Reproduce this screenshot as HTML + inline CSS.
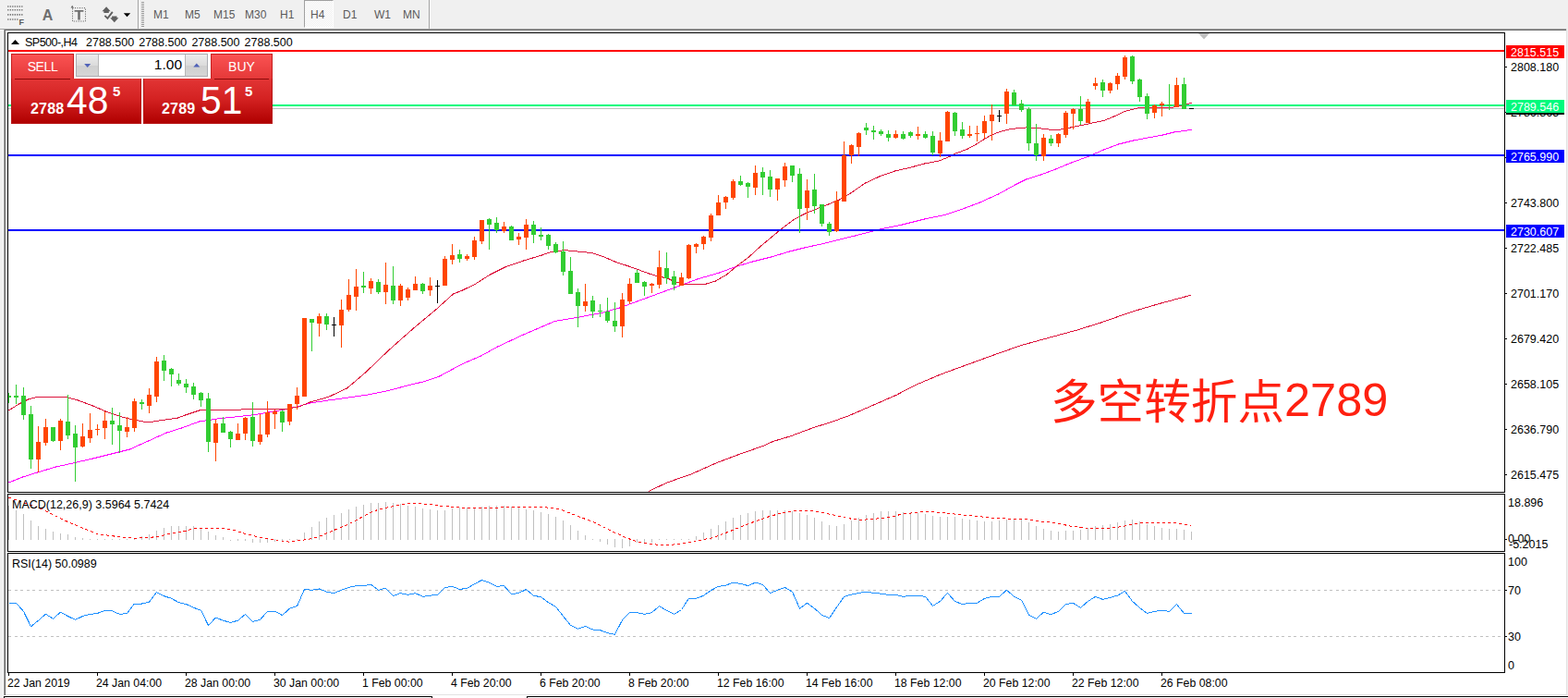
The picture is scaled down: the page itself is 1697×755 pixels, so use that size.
<!DOCTYPE html>
<html><head><meta charset="utf-8"><title>SP500-,H4</title>
<style>
html,body{margin:0;padding:0;}
body{width:1697px;height:755px;overflow:hidden;background:#f0f0f0;font-family:"Liberation Sans",sans-serif;position:relative;}
.abs{position:absolute;}
#win{left:4px;top:31px;width:1692px;height:721px;background:#fff;}
.tf{position:absolute;top:9px;font-size:12px;color:#5a5a5a;height:14px;line-height:14px;white-space:nowrap;}
.btn{position:absolute;background:linear-gradient(#f95151,#e03030);}
.pr{position:absolute;color:#fff;white-space:nowrap;}
</style></head><body>
<!-- chart window frame -->
<div class="abs" id="win"></div>
<div class="abs" style="left:0px;top:31px;width:1695px;height:1px;background:#a0a0a0"></div>
<div class="abs" style="left:0px;top:32px;width:4px;height:1px;background:#fff"></div>
<div class="abs" style="left:3px;top:33px;width:1px;height:719px;background:#f7f7f7"></div>
<div class="abs" style="left:5px;top:32px;width:1690px;height:1px;background:#696969"></div>
<div class="abs" style="left:4px;top:31px;width:1px;height:721px;background:#a0a0a0"></div>
<div class="abs" style="left:5px;top:32px;width:1px;height:720px;background:#696969"></div>
<div class="abs" style="left:1695px;top:31px;width:1px;height:721px;background:#e3e3e3"></div>
<div class="abs" style="left:6px;top:751px;width:1690px;height:1px;background:#e3e3e3"></div>
<!-- bottom tab strip -->
<div class="abs" style="left:4px;top:752px;width:1693px;height:3px;background:#fff"></div>
<div class="abs" style="left:4px;top:753px;width:464px;height:1px;background:#000"></div>
<div class="abs" style="left:4px;top:753px;width:1px;height:2px;background:#000"></div>
<div class="abs" style="left:467px;top:753px;width:1px;height:2px;background:#000"></div>
<div class="abs" style="left:570px;top:753px;width:1127px;height:1px;background:#000"></div>
<div class="abs" style="left:570px;top:753px;width:1px;height:2px;background:#000"></div>

<!-- toolbar -->
<div class="abs" id="toolbar" style="left:0;top:0;width:1697px;height:31px;background:#f0f0f0">
 <svg class="abs" style="left:0;top:0" width="170" height="31" viewBox="0 0 170 31">
  <g stroke="#6a6a6a" stroke-width="1.6" stroke-dasharray="1.2 1.3">
   <line x1="8.2" x2="25.5" y1="7" y2="7"/><line x1="8.2" x2="25.5" y1="10.8" y2="10.8"/><line x1="8.2" x2="25.5" y1="15.9" y2="15.9"/><line x1="8.2" x2="20.5" y1="21" y2="21"/>
  </g>
  <text x="20.6" y="26.6" font-size="9" font-weight="bold" fill="#5a5a5a" font-family="Liberation Sans, sans-serif">F</text>
   <text x="45.8" y="22" font-size="16" font-weight="bold" fill="#6e6e6e" font-family="Liberation Sans, sans-serif">A</text>
  <rect x="78.5" y="8.7" width="14" height="14.3" fill="none" stroke="#555" stroke-width="1" stroke-dasharray="1 1.5"/>
  <path d="M76.6 8.6 l1.6 -2.8 l1.6 2.8z" fill="#666"/>
  <path d="M80.6 11 h9.8 v1.8 h-3.6 v8.7 h-2.6 v-8.7 h-3.6z" fill="#707070"/>
  <path d="M115.1 7.2 l4.6 5 h-1.9 v1.7 h-5.4 v-1.7 h-1.9z" fill="#606060"/>
  <path d="M113.4 16.9 l3 3 l5.4 -7" fill="none" stroke="#606060" stroke-width="1.9"/>
  <path d="M123.8 24.2 l4.6 -5 h-1.9 v-1.7 h-5.4 v1.7 h-1.9z" fill="#606060"/>
  <path d="M133.8 14.2 h7.4 l-3.7 4z" fill="#000"/>
  <rect x="149" y="0" width="1" height="31" fill="#a0a0a0"/><rect x="150" y="0" width="1" height="31" fill="#fff"/>
  <g fill="#9a9a9a"><rect x="153" y="2" width="3" height="1"/><rect x="153" y="4" width="3" height="1"/><rect x="153" y="6" width="3" height="1"/><rect x="153" y="8" width="3" height="1"/><rect x="153" y="10" width="3" height="1"/><rect x="153" y="12" width="3" height="1"/><rect x="153" y="14" width="3" height="1"/><rect x="153" y="16" width="3" height="1"/><rect x="153" y="18" width="3" height="1"/><rect x="153" y="20" width="3" height="1"/><rect x="153" y="22" width="3" height="1"/><rect x="153" y="24" width="3" height="1"/><rect x="153" y="26" width="3" height="1"/><rect x="153" y="28" width="3" height="1"/></g>
 </svg>
 <div class="abs" style="left:329px;top:0;width:32px;height:30px;background-color:#f8f8f8;background-image:conic-gradient(#ffffff 25%,#f0f0f0 0 50%,#ffffff 0 75%,#f0f0f0 0);background-size:2px 2px;border-left:1px solid #a0a0a0;border-top:1px solid #a0a0a0;border-right:1px solid #fff;border-bottom:1px solid #fff;box-sizing:border-box"></div>
 <div class="tf" style="left:166px">M1</div><div class="tf" style="left:200px">M5</div><div class="tf" style="left:231px">M15</div><div class="tf" style="left:265px">M30</div><div class="tf" style="left:303px">H1</div><div class="tf" style="left:336px">H4</div><div class="tf" style="left:371px">D1</div><div class="tf" style="left:405px">W1</div><div class="tf" style="left:436px">MN</div>
 <div class="abs" style="left:464px;top:0;width:1px;height:31px;background:#a0a0a0"></div><div class="abs" style="left:465px;top:0;width:1px;height:31px;background:#fff"></div>
</div>

<svg width="1697" height="755" viewBox="0 0 1697 755" style="position:absolute;left:0;top:0"><rect x="8" y="35" width="1621" height="1" fill="#000"/>
<rect x="8" y="532" width="1621" height="1" fill="#000"/>
<rect x="8" y="35" width="1" height="498" fill="#000"/>
<rect x="1628" y="35" width="1" height="498" fill="#000"/>
<rect x="8" y="534" width="1621" height="1" fill="#000"/>
<rect x="8" y="596" width="1621" height="1" fill="#000"/>
<rect x="8" y="534" width="1" height="63" fill="#000"/>
<rect x="1628" y="534" width="1" height="63" fill="#000"/>
<rect x="8" y="598" width="1621" height="1" fill="#000"/>
<rect x="8" y="727" width="1621" height="1" fill="#000"/>
<rect x="8" y="598" width="1" height="130" fill="#000"/>
<rect x="1628" y="598" width="1" height="130" fill="#000"/>
<clipPath id="cm"><rect x="9" y="36" width="1619" height="496"/></clipPath>
<g clip-path="url(#cm)" shape-rendering="crispEdges">
<rect x="9" y="117" width="1619" height="1" fill="#c0c0c0"/>
<rect x="9" y="113" width="1619" height="2" fill="#00fa7d"/>
<polyline points="701.6,531.5 722.3,521.9 747.7,513.0 776.4,500.3 801.8,490.8 827.2,481.9 836.8,477.4 855.8,471.7 881.3,462.2 897.2,457.4 919.4,449.4 944.9,438.3 970.3,427.2 990.5,416.6 1017.9,405.0 1045.3,395.0 1072.7,385.0 1103.8,374.0 1136.6,364.9 1164.0,357.5 1191.5,349.0 1224.3,337.4 1255.4,328.3 1289.2,319.2" fill="none" stroke="#dc143c" stroke-width="1" />
<polyline points="9.5,522.0 24.5,516.0 40.5,511.0 60.5,505.0 80.5,500.6 100.5,496.0 120.5,491.0 140.5,486.0 160.5,477.0 180.5,468.0 196.5,463.0 215.5,456.0 235.5,453.0 275.5,448.6 307.5,443.0 323.5,439.4 335.5,436.0 355.5,433.0 395.5,427.4 416.3,423.4 444.5,416.2 459.7,412.5 474.8,407.4 500.5,393.6 520.5,385.0 538.5,375.0 566.5,362.0 600.5,347.4 624.5,343.4 650.5,338.6 670.5,333.0 700.5,322.0 730.5,311.0 754.5,302.0 778.5,295.0 796.5,288.4 814.5,283.0 834.5,278.0 854.5,272.0 870.5,268.0 890.5,263.6 925.5,255.0 952.5,248.0 976.5,243.0 1000.5,237.0 1024.5,232.0 1044.5,225.0 1060.5,219.0 1080.5,210.0 1098.5,200.0 1110.5,194.0 1126.5,189.0 1142.5,183.0 1158.5,176.4 1178.5,169.0 1194.5,162.0 1210.5,156.0 1226.5,152.0 1242.5,149.0 1258.5,146.0 1270.5,143.0 1280.5,141.6 1289.5,140.4" fill="none" stroke="#ff00ff" stroke-width="1" />
<polyline points="9.5,444.0 20.5,437.0 30.5,432.0 40.5,429.4 70.5,429.4 84.5,433.0 100.5,439.0 114.5,445.0 130.5,450.6 144.5,454.0 160.5,457.0 172.5,455.0 192.5,452.0 200.5,449.0 215.5,444.0 261.5,443.0 307.5,442.6 323.5,440.0 335.5,435.0 355.5,429.4 375.5,420.0 395.5,403.0 420.5,379.0 446.5,356.0 470.5,336.0 490.5,318.0 500.5,314.0 514.5,307.2 530.5,297.0 546.5,289.0 566.5,282.0 586.5,276.0 596.5,272.6 610.5,270.6 624.5,272.0 640.5,273.6 652.5,277.4 666.5,283.4 680.5,288.0 692.5,292.3 702.5,296.0 712.5,299.0 722.5,301.0 730.5,305.0 742.5,307.6 762.5,307.6 774.5,304.0 786.5,297.0 798.5,287.0 810.5,278.0 822.5,267.0 834.5,257.0 846.5,247.0 858.5,238.0 870.5,231.4 882.5,226.5 896.5,221.0 908.5,216.0 920.5,209.0 936.5,198.0 952.5,190.6 968.5,185.0 984.5,181.4 1000.5,177.0 1016.5,174.0 1028.1,169.3 1032.9,166.5 1047.0,161.3 1056.5,156.1 1065.5,150.3 1072.5,146.3 1082.5,142.4 1094.5,139.4 1110.5,138.0 1122.5,138.4 1134.5,140.0 1146.5,140.4 1158.5,138.0 1170.5,135.6 1182.5,132.9 1194.5,130.6 1206.5,125.6 1217.0,120.5 1225.5,118.4 1232.5,116.6 1242.5,116.5 1258.5,116.5 1268.5,116.4 1272.5,115.5 1278.5,114.5 1284.5,112.5 1289.5,111.3" fill="none" stroke="#dc143c" stroke-width="1" />
<rect x="9" y="54" width="1619" height="2" fill="#ff0000"/>
<rect x="9" y="167" width="1619" height="2" fill="#0000ff"/>
<rect x="9" y="248" width="1619" height="2" fill="#0000ff"/>
<rect x="9" y="425" width="1" height="11" fill="#32cd32"/>
<rect x="7" y="428" width="5" height="2" fill="#32cd32"/>
<rect x="17" y="416" width="1" height="21" fill="#32cd32"/>
<rect x="15" y="428" width="5" height="2" fill="#32cd32"/>
<rect x="25" y="419" width="1" height="35" fill="#32cd32"/>
<rect x="23" y="428" width="5" height="21" fill="#32cd32"/>
<rect x="33" y="439" width="1" height="68" fill="#32cd32"/>
<rect x="31" y="448" width="5" height="49" fill="#32cd32"/>
<rect x="41" y="461" width="1" height="50" fill="#ff4500"/>
<rect x="39" y="478" width="5" height="19" fill="#ff4500"/>
<rect x="49" y="453" width="1" height="29" fill="#ff4500"/>
<rect x="47" y="462" width="5" height="17" fill="#ff4500"/>
<rect x="57" y="462" width="1" height="16" fill="#32cd32"/>
<rect x="55" y="462" width="5" height="15" fill="#32cd32"/>
<rect x="65" y="453" width="1" height="34" fill="#ff4500"/>
<rect x="63" y="455" width="5" height="22" fill="#ff4500"/>
<rect x="73" y="427" width="1" height="48" fill="#32cd32"/>
<rect x="71" y="456" width="5" height="15" fill="#32cd32"/>
<rect x="81" y="460" width="1" height="61" fill="#32cd32"/>
<rect x="79" y="469" width="5" height="15" fill="#32cd32"/>
<rect x="89" y="458" width="1" height="26" fill="#ff4500"/>
<rect x="87" y="472" width="5" height="11" fill="#ff4500"/>
<rect x="97" y="447" width="1" height="32" fill="#ff4500"/>
<rect x="95" y="465" width="5" height="9" fill="#ff4500"/>
<rect x="105" y="459" width="1" height="12" fill="#ff4500"/>
<rect x="103" y="464" width="5" height="1" fill="#ff4500"/>
<rect x="113" y="445" width="1" height="30" fill="#ff4500"/>
<rect x="111" y="455" width="5" height="8" fill="#ff4500"/>
<rect x="121" y="441" width="1" height="40" fill="#32cd32"/>
<rect x="119" y="455" width="5" height="4" fill="#32cd32"/>
<rect x="129" y="446" width="1" height="44" fill="#32cd32"/>
<rect x="127" y="460" width="5" height="6" fill="#32cd32"/>
<rect x="137" y="451" width="1" height="22" fill="#ff4500"/>
<rect x="135" y="462" width="5" height="5" fill="#ff4500"/>
<rect x="145" y="431" width="1" height="36" fill="#ff4500"/>
<rect x="143" y="434" width="5" height="29" fill="#ff4500"/>
<rect x="153" y="432" width="1" height="11" fill="#32cd32"/>
<rect x="151" y="435" width="5" height="2" fill="#32cd32"/>
<rect x="161" y="420" width="1" height="27" fill="#ff4500"/>
<rect x="159" y="427" width="5" height="12" fill="#ff4500"/>
<rect x="169" y="386" width="1" height="49" fill="#ff4500"/>
<rect x="167" y="391" width="5" height="38" fill="#ff4500"/>
<rect x="177" y="384" width="1" height="28" fill="#32cd32"/>
<rect x="175" y="390" width="5" height="11" fill="#32cd32"/>
<rect x="185" y="398" width="1" height="20" fill="#32cd32"/>
<rect x="183" y="399" width="5" height="6" fill="#32cd32"/>
<rect x="193" y="404" width="1" height="13" fill="#32cd32"/>
<rect x="191" y="411" width="5" height="4" fill="#32cd32"/>
<rect x="201" y="410" width="1" height="15" fill="#32cd32"/>
<rect x="199" y="415" width="5" height="4" fill="#32cd32"/>
<rect x="209" y="414" width="1" height="18" fill="#32cd32"/>
<rect x="207" y="418" width="5" height="9" fill="#32cd32"/>
<rect x="217" y="424" width="1" height="16" fill="#32cd32"/>
<rect x="215" y="425" width="5" height="8" fill="#32cd32"/>
<rect x="225" y="425" width="1" height="64" fill="#32cd32"/>
<rect x="223" y="431" width="5" height="47" fill="#32cd32"/>
<rect x="233" y="454" width="1" height="45" fill="#ff4500"/>
<rect x="231" y="458" width="5" height="21" fill="#ff4500"/>
<rect x="241" y="451" width="1" height="17" fill="#32cd32"/>
<rect x="239" y="458" width="5" height="10" fill="#32cd32"/>
<rect x="249" y="466" width="1" height="18" fill="#32cd32"/>
<rect x="247" y="467" width="5" height="8" fill="#32cd32"/>
<rect x="257" y="458" width="1" height="18" fill="#ff4500"/>
<rect x="255" y="469" width="5" height="7" fill="#ff4500"/>
<rect x="265" y="451" width="1" height="25" fill="#ff4500"/>
<rect x="263" y="452" width="5" height="17" fill="#ff4500"/>
<rect x="273" y="435" width="1" height="48" fill="#32cd32"/>
<rect x="271" y="451" width="5" height="26" fill="#32cd32"/>
<rect x="281" y="448" width="1" height="33" fill="#ff4500"/>
<rect x="279" y="470" width="5" height="8" fill="#ff4500"/>
<rect x="289" y="434" width="1" height="39" fill="#ff4500"/>
<rect x="287" y="446" width="5" height="24" fill="#ff4500"/>
<rect x="297" y="443" width="1" height="21" fill="#ff4500"/>
<rect x="295" y="445" width="5" height="3" fill="#ff4500"/>
<rect x="305" y="443" width="1" height="24" fill="#32cd32"/>
<rect x="303" y="445" width="5" height="12" fill="#32cd32"/>
<rect x="313" y="437" width="1" height="23" fill="#ff4500"/>
<rect x="311" y="437" width="5" height="19" fill="#ff4500"/>
<rect x="321" y="419" width="1" height="24" fill="#ff4500"/>
<rect x="319" y="428" width="5" height="9" fill="#ff4500"/>
<rect x="329" y="344" width="1" height="85" fill="#ff4500"/>
<rect x="327" y="344" width="5" height="85" fill="#ff4500"/>
<rect x="337" y="345" width="1" height="35" fill="#32cd32"/>
<rect x="335" y="345" width="5" height="4" fill="#32cd32"/>
<rect x="345" y="339" width="1" height="25" fill="#ff4500"/>
<rect x="343" y="342" width="5" height="8" fill="#ff4500"/>
<rect x="353" y="339" width="1" height="18" fill="#32cd32"/>
<rect x="351" y="342" width="5" height="9" fill="#32cd32"/>
<rect x="361" y="343" width="1" height="21" fill="#000000"/>
<rect x="359" y="351" width="5" height="1" fill="#000000"/>
<rect x="369" y="324" width="1" height="52" fill="#ff4500"/>
<rect x="367" y="335" width="5" height="17" fill="#ff4500"/>
<rect x="377" y="302" width="1" height="35" fill="#ff4500"/>
<rect x="375" y="319" width="5" height="16" fill="#ff4500"/>
<rect x="385" y="291" width="1" height="45" fill="#ff4500"/>
<rect x="383" y="310" width="5" height="11" fill="#ff4500"/>
<rect x="393" y="294" width="1" height="23" fill="#32cd32"/>
<rect x="391" y="309" width="5" height="2" fill="#32cd32"/>
<rect x="401" y="301" width="1" height="17" fill="#ff4500"/>
<rect x="399" y="304" width="5" height="8" fill="#ff4500"/>
<rect x="409" y="302" width="1" height="16" fill="#32cd32"/>
<rect x="407" y="305" width="5" height="11" fill="#32cd32"/>
<rect x="417" y="284" width="1" height="45" fill="#ff4500"/>
<rect x="415" y="308" width="5" height="8" fill="#ff4500"/>
<rect x="425" y="288" width="1" height="41" fill="#32cd32"/>
<rect x="423" y="309" width="5" height="16" fill="#32cd32"/>
<rect x="433" y="307" width="1" height="24" fill="#ff4500"/>
<rect x="431" y="309" width="5" height="16" fill="#ff4500"/>
<rect x="441" y="311" width="1" height="14" fill="#ff4500"/>
<rect x="439" y="313" width="5" height="9" fill="#ff4500"/>
<rect x="449" y="299" width="1" height="15" fill="#ff4500"/>
<rect x="447" y="307" width="5" height="7" fill="#ff4500"/>
<rect x="457" y="306" width="1" height="12" fill="#32cd32"/>
<rect x="455" y="307" width="5" height="8" fill="#32cd32"/>
<rect x="465" y="300" width="1" height="20" fill="#ff4500"/>
<rect x="463" y="309" width="5" height="5" fill="#ff4500"/>
<rect x="473" y="303" width="1" height="25" fill="#000000"/>
<rect x="471" y="309" width="5" height="1" fill="#000000"/>
<rect x="481" y="277" width="1" height="32" fill="#ff4500"/>
<rect x="479" y="280" width="5" height="29" fill="#ff4500"/>
<rect x="489" y="264" width="1" height="22" fill="#ff4500"/>
<rect x="487" y="276" width="5" height="5" fill="#ff4500"/>
<rect x="497" y="270" width="1" height="14" fill="#32cd32"/>
<rect x="495" y="275" width="5" height="5" fill="#32cd32"/>
<rect x="505" y="275" width="1" height="7" fill="#ff4500"/>
<rect x="503" y="277" width="5" height="3" fill="#ff4500"/>
<rect x="513" y="256" width="1" height="25" fill="#ff4500"/>
<rect x="511" y="260" width="5" height="18" fill="#ff4500"/>
<rect x="521" y="238" width="1" height="26" fill="#ff4500"/>
<rect x="519" y="238" width="5" height="23" fill="#ff4500"/>
<rect x="529" y="236" width="1" height="34" fill="#32cd32"/>
<rect x="527" y="237" width="5" height="6" fill="#32cd32"/>
<rect x="537" y="235" width="1" height="17" fill="#32cd32"/>
<rect x="535" y="241" width="5" height="8" fill="#32cd32"/>
<rect x="545" y="240" width="1" height="12" fill="#ff4500"/>
<rect x="543" y="245" width="5" height="5" fill="#ff4500"/>
<rect x="553" y="244" width="1" height="16" fill="#32cd32"/>
<rect x="551" y="245" width="5" height="15" fill="#32cd32"/>
<rect x="561" y="252" width="1" height="13" fill="#ff4500"/>
<rect x="559" y="256" width="5" height="3" fill="#ff4500"/>
<rect x="569" y="237" width="1" height="33" fill="#ff4500"/>
<rect x="567" y="243" width="5" height="14" fill="#ff4500"/>
<rect x="577" y="239" width="1" height="24" fill="#32cd32"/>
<rect x="575" y="243" width="5" height="11" fill="#32cd32"/>
<rect x="585" y="246" width="1" height="14" fill="#32cd32"/>
<rect x="583" y="254" width="5" height="2" fill="#32cd32"/>
<rect x="593" y="253" width="1" height="17" fill="#32cd32"/>
<rect x="591" y="254" width="5" height="12" fill="#32cd32"/>
<rect x="601" y="262" width="1" height="12" fill="#32cd32"/>
<rect x="599" y="264" width="5" height="9" fill="#32cd32"/>
<rect x="609" y="261" width="1" height="37" fill="#32cd32"/>
<rect x="607" y="272" width="5" height="22" fill="#32cd32"/>
<rect x="617" y="278" width="1" height="40" fill="#32cd32"/>
<rect x="615" y="293" width="5" height="25" fill="#32cd32"/>
<rect x="625" y="312" width="1" height="42" fill="#32cd32"/>
<rect x="623" y="316" width="5" height="15" fill="#32cd32"/>
<rect x="633" y="307" width="1" height="30" fill="#ff4500"/>
<rect x="631" y="326" width="5" height="5" fill="#ff4500"/>
<rect x="641" y="320" width="1" height="24" fill="#32cd32"/>
<rect x="639" y="325" width="5" height="12" fill="#32cd32"/>
<rect x="649" y="329" width="1" height="14" fill="#32cd32"/>
<rect x="647" y="336" width="5" height="1" fill="#32cd32"/>
<rect x="657" y="322" width="1" height="27" fill="#32cd32"/>
<rect x="655" y="337" width="5" height="10" fill="#32cd32"/>
<rect x="665" y="327" width="1" height="32" fill="#32cd32"/>
<rect x="663" y="347" width="5" height="6" fill="#32cd32"/>
<rect x="673" y="317" width="1" height="48" fill="#ff4500"/>
<rect x="671" y="324" width="5" height="29" fill="#ff4500"/>
<rect x="681" y="301" width="1" height="28" fill="#ff4500"/>
<rect x="679" y="307" width="5" height="19" fill="#ff4500"/>
<rect x="689" y="292" width="1" height="14" fill="#32cd32"/>
<rect x="687" y="295" width="5" height="11" fill="#32cd32"/>
<rect x="697" y="304" width="1" height="16" fill="#32cd32"/>
<rect x="695" y="305" width="5" height="5" fill="#32cd32"/>
<rect x="705" y="306" width="1" height="11" fill="#ff4500"/>
<rect x="703" y="307" width="5" height="2" fill="#ff4500"/>
<rect x="713" y="271" width="1" height="41" fill="#ff4500"/>
<rect x="711" y="289" width="5" height="19" fill="#ff4500"/>
<rect x="721" y="273" width="1" height="34" fill="#32cd32"/>
<rect x="719" y="290" width="5" height="11" fill="#32cd32"/>
<rect x="729" y="293" width="1" height="21" fill="#32cd32"/>
<rect x="727" y="299" width="5" height="9" fill="#32cd32"/>
<rect x="737" y="295" width="1" height="14" fill="#ff4500"/>
<rect x="735" y="300" width="5" height="9" fill="#ff4500"/>
<rect x="745" y="264" width="1" height="38" fill="#ff4500"/>
<rect x="743" y="265" width="5" height="36" fill="#ff4500"/>
<rect x="753" y="263" width="1" height="11" fill="#ff4500"/>
<rect x="751" y="264" width="5" height="3" fill="#ff4500"/>
<rect x="761" y="255" width="1" height="15" fill="#ff4500"/>
<rect x="759" y="256" width="5" height="8" fill="#ff4500"/>
<rect x="769" y="231" width="1" height="30" fill="#ff4500"/>
<rect x="767" y="233" width="5" height="24" fill="#ff4500"/>
<rect x="777" y="211" width="1" height="22" fill="#ff4500"/>
<rect x="775" y="219" width="5" height="14" fill="#ff4500"/>
<rect x="785" y="212" width="1" height="14" fill="#ff4500"/>
<rect x="783" y="213" width="5" height="6" fill="#ff4500"/>
<rect x="793" y="194" width="1" height="22" fill="#ff4500"/>
<rect x="791" y="196" width="5" height="18" fill="#ff4500"/>
<rect x="801" y="190" width="1" height="11" fill="#32cd32"/>
<rect x="799" y="196" width="5" height="4" fill="#32cd32"/>
<rect x="809" y="197" width="1" height="17" fill="#32cd32"/>
<rect x="807" y="198" width="5" height="4" fill="#32cd32"/>
<rect x="817" y="179" width="1" height="32" fill="#ff4500"/>
<rect x="815" y="187" width="5" height="16" fill="#ff4500"/>
<rect x="825" y="181" width="1" height="30" fill="#32cd32"/>
<rect x="823" y="186" width="5" height="6" fill="#32cd32"/>
<rect x="833" y="184" width="1" height="29" fill="#32cd32"/>
<rect x="831" y="191" width="5" height="14" fill="#32cd32"/>
<rect x="841" y="193" width="1" height="24" fill="#ff4500"/>
<rect x="839" y="193" width="5" height="12" fill="#ff4500"/>
<rect x="849" y="176" width="1" height="26" fill="#ff4500"/>
<rect x="847" y="180" width="5" height="15" fill="#ff4500"/>
<rect x="857" y="179" width="1" height="18" fill="#32cd32"/>
<rect x="855" y="179" width="5" height="11" fill="#32cd32"/>
<rect x="865" y="182" width="1" height="70" fill="#32cd32"/>
<rect x="863" y="188" width="5" height="38" fill="#32cd32"/>
<rect x="873" y="194" width="1" height="44" fill="#ff4500"/>
<rect x="871" y="206" width="5" height="19" fill="#ff4500"/>
<rect x="881" y="188" width="1" height="43" fill="#32cd32"/>
<rect x="879" y="205" width="5" height="18" fill="#32cd32"/>
<rect x="889" y="221" width="1" height="24" fill="#32cd32"/>
<rect x="887" y="221" width="5" height="21" fill="#32cd32"/>
<rect x="897" y="240" width="1" height="15" fill="#32cd32"/>
<rect x="895" y="242" width="5" height="9" fill="#32cd32"/>
<rect x="905" y="207" width="1" height="44" fill="#ff4500"/>
<rect x="903" y="217" width="5" height="33" fill="#ff4500"/>
<rect x="913" y="153" width="1" height="65" fill="#ff4500"/>
<rect x="911" y="168" width="5" height="50" fill="#ff4500"/>
<rect x="921" y="156" width="1" height="21" fill="#ff4500"/>
<rect x="919" y="157" width="5" height="11" fill="#ff4500"/>
<rect x="929" y="143" width="1" height="26" fill="#ff4500"/>
<rect x="927" y="144" width="5" height="15" fill="#ff4500"/>
<rect x="937" y="133" width="1" height="13" fill="#32cd32"/>
<rect x="935" y="138" width="5" height="3" fill="#32cd32"/>
<rect x="945" y="136" width="1" height="15" fill="#32cd32"/>
<rect x="943" y="141" width="5" height="2" fill="#32cd32"/>
<rect x="953" y="140" width="1" height="7" fill="#32cd32"/>
<rect x="951" y="142" width="5" height="3" fill="#32cd32"/>
<rect x="961" y="141" width="1" height="12" fill="#32cd32"/>
<rect x="959" y="145" width="5" height="4" fill="#32cd32"/>
<rect x="969" y="141" width="1" height="9" fill="#ff4500"/>
<rect x="967" y="145" width="5" height="4" fill="#ff4500"/>
<rect x="977" y="142" width="1" height="9" fill="#32cd32"/>
<rect x="975" y="145" width="5" height="5" fill="#32cd32"/>
<rect x="985" y="142" width="1" height="7" fill="#32cd32"/>
<rect x="983" y="143" width="5" height="4" fill="#32cd32"/>
<rect x="993" y="137" width="1" height="14" fill="#ff4500"/>
<rect x="991" y="145" width="5" height="2" fill="#ff4500"/>
<rect x="1001" y="142" width="1" height="8" fill="#32cd32"/>
<rect x="999" y="145" width="5" height="4" fill="#32cd32"/>
<rect x="1009" y="142" width="1" height="26" fill="#32cd32"/>
<rect x="1007" y="147" width="5" height="18" fill="#32cd32"/>
<rect x="1017" y="143" width="1" height="27" fill="#ff4500"/>
<rect x="1015" y="152" width="5" height="14" fill="#ff4500"/>
<rect x="1025" y="120" width="1" height="33" fill="#ff4500"/>
<rect x="1023" y="121" width="5" height="32" fill="#ff4500"/>
<rect x="1033" y="121" width="1" height="26" fill="#32cd32"/>
<rect x="1031" y="122" width="5" height="20" fill="#32cd32"/>
<rect x="1041" y="132" width="1" height="18" fill="#32cd32"/>
<rect x="1039" y="140" width="5" height="7" fill="#32cd32"/>
<rect x="1049" y="136" width="1" height="13" fill="#ff4500"/>
<rect x="1047" y="145" width="5" height="2" fill="#ff4500"/>
<rect x="1057" y="136" width="1" height="17" fill="#ff4500"/>
<rect x="1055" y="144" width="5" height="1" fill="#ff4500"/>
<rect x="1065" y="125" width="1" height="25" fill="#ff4500"/>
<rect x="1063" y="131" width="5" height="13" fill="#ff4500"/>
<rect x="1073" y="113" width="1" height="39" fill="#ff4500"/>
<rect x="1071" y="124" width="5" height="7" fill="#ff4500"/>
<rect x="1081" y="119" width="1" height="13" fill="#000000"/>
<rect x="1079" y="125" width="5" height="1" fill="#000000"/>
<rect x="1089" y="96" width="1" height="38" fill="#ff4500"/>
<rect x="1087" y="99" width="5" height="24" fill="#ff4500"/>
<rect x="1097" y="97" width="1" height="17" fill="#32cd32"/>
<rect x="1095" y="100" width="5" height="14" fill="#32cd32"/>
<rect x="1105" y="108" width="1" height="13" fill="#32cd32"/>
<rect x="1103" y="112" width="5" height="7" fill="#32cd32"/>
<rect x="1113" y="116" width="1" height="47" fill="#32cd32"/>
<rect x="1111" y="118" width="5" height="37" fill="#32cd32"/>
<rect x="1121" y="134" width="1" height="40" fill="#32cd32"/>
<rect x="1119" y="155" width="5" height="13" fill="#32cd32"/>
<rect x="1129" y="145" width="1" height="29" fill="#ff4500"/>
<rect x="1127" y="149" width="5" height="20" fill="#ff4500"/>
<rect x="1137" y="146" width="1" height="12" fill="#32cd32"/>
<rect x="1135" y="150" width="5" height="5" fill="#32cd32"/>
<rect x="1145" y="144" width="1" height="15" fill="#ff4500"/>
<rect x="1143" y="145" width="5" height="10" fill="#ff4500"/>
<rect x="1153" y="120" width="1" height="29" fill="#ff4500"/>
<rect x="1151" y="122" width="5" height="24" fill="#ff4500"/>
<rect x="1161" y="117" width="1" height="23" fill="#ff4500"/>
<rect x="1159" y="118" width="5" height="5" fill="#ff4500"/>
<rect x="1169" y="104" width="1" height="31" fill="#32cd32"/>
<rect x="1167" y="118" width="5" height="13" fill="#32cd32"/>
<rect x="1177" y="107" width="1" height="26" fill="#ff4500"/>
<rect x="1175" y="110" width="5" height="23" fill="#ff4500"/>
<rect x="1185" y="84" width="1" height="13" fill="#ff4500"/>
<rect x="1183" y="90" width="5" height="3" fill="#ff4500"/>
<rect x="1193" y="86" width="1" height="19" fill="#32cd32"/>
<rect x="1191" y="89" width="5" height="9" fill="#32cd32"/>
<rect x="1201" y="89" width="1" height="12" fill="#ff4500"/>
<rect x="1199" y="90" width="5" height="8" fill="#ff4500"/>
<rect x="1209" y="79" width="1" height="18" fill="#ff4500"/>
<rect x="1207" y="82" width="5" height="9" fill="#ff4500"/>
<rect x="1217" y="60" width="1" height="26" fill="#ff4500"/>
<rect x="1215" y="62" width="5" height="21" fill="#ff4500"/>
<rect x="1225" y="60" width="1" height="31" fill="#32cd32"/>
<rect x="1223" y="61" width="5" height="27" fill="#32cd32"/>
<rect x="1233" y="85" width="1" height="25" fill="#32cd32"/>
<rect x="1231" y="86" width="5" height="19" fill="#32cd32"/>
<rect x="1241" y="101" width="1" height="28" fill="#32cd32"/>
<rect x="1239" y="104" width="5" height="19" fill="#32cd32"/>
<rect x="1249" y="113" width="1" height="15" fill="#ff4500"/>
<rect x="1247" y="114" width="5" height="8" fill="#ff4500"/>
<rect x="1257" y="110" width="1" height="16" fill="#ff4500"/>
<rect x="1255" y="112" width="5" height="2" fill="#ff4500"/>
<rect x="1265" y="91" width="1" height="28" fill="#32cd32"/>
<rect x="1263" y="113" width="5" height="1" fill="#32cd32"/>
<rect x="1273" y="84" width="1" height="32" fill="#ff4500"/>
<rect x="1271" y="92" width="5" height="24" fill="#ff4500"/>
<rect x="1281" y="84" width="1" height="34" fill="#32cd32"/>
<rect x="1279" y="91" width="5" height="27" fill="#32cd32"/>
<rect x="1287" y="117" width="5" height="1" fill="#000"/>
</g>
<polygon points="1297,36 1309,36 1303,42.5" fill="#c0c0c0"/>
<clipPath id="c2"><rect x="9" y="535" width="1619" height="61"/></clipPath>
<g clip-path="url(#c2)">
<g shape-rendering="crispEdges" fill="#c0c0c0">
<rect x="9" y="547" width="1" height="37"/>
<rect x="17" y="552" width="1" height="32"/>
<rect x="25" y="556" width="1" height="28"/>
<rect x="33" y="563" width="1" height="21"/>
<rect x="41" y="569" width="1" height="15"/>
<rect x="49" y="572" width="1" height="12"/>
<rect x="57" y="575" width="1" height="9"/>
<rect x="65" y="577" width="1" height="7"/>
<rect x="73" y="578" width="1" height="6"/>
<rect x="81" y="581" width="1" height="3"/>
<rect x="89" y="582" width="1" height="2"/>
<rect x="97" y="583" width="1" height="1"/>
<rect x="105" y="583" width="1" height="1"/>
<rect x="113" y="583" width="1" height="1"/>
<rect x="121" y="583" width="1" height="1"/>
<rect x="129" y="583" width="1" height="1"/>
<rect x="137" y="583" width="1" height="1"/>
<rect x="145" y="582" width="1" height="2"/>
<rect x="153" y="580" width="1" height="4"/>
<rect x="161" y="578" width="1" height="6"/>
<rect x="169" y="574" width="1" height="10"/>
<rect x="177" y="571" width="1" height="13"/>
<rect x="185" y="569" width="1" height="15"/>
<rect x="193" y="569" width="1" height="15"/>
<rect x="201" y="569" width="1" height="15"/>
<rect x="209" y="569" width="1" height="15"/>
<rect x="217" y="572" width="1" height="12"/>
<rect x="225" y="575" width="1" height="9"/>
<rect x="233" y="579" width="1" height="5"/>
<rect x="241" y="581" width="1" height="3"/>
<rect x="249" y="584" width="1" height="1"/>
<rect x="257" y="583" width="1" height="2"/>
<rect x="265" y="583" width="1" height="2"/>
<rect x="273" y="583" width="1" height="4"/>
<rect x="281" y="583" width="1" height="4"/>
<rect x="289" y="583" width="1" height="4"/>
<rect x="297" y="583" width="1" height="3"/>
<rect x="305" y="583" width="1" height="2"/>
<rect x="313" y="583" width="1" height="1"/>
<rect x="321" y="583" width="1" height="1"/>
<rect x="329" y="576" width="1" height="8"/>
<rect x="337" y="570" width="1" height="14"/>
<rect x="345" y="564" width="1" height="20"/>
<rect x="353" y="560" width="1" height="24"/>
<rect x="361" y="557" width="1" height="27"/>
<rect x="369" y="555" width="1" height="29"/>
<rect x="377" y="551" width="1" height="33"/>
<rect x="385" y="548" width="1" height="36"/>
<rect x="393" y="546" width="1" height="38"/>
<rect x="401" y="544" width="1" height="40"/>
<rect x="409" y="544" width="1" height="40"/>
<rect x="417" y="543" width="1" height="41"/>
<rect x="425" y="544" width="1" height="40"/>
<rect x="433" y="545" width="1" height="39"/>
<rect x="441" y="547" width="1" height="37"/>
<rect x="449" y="548" width="1" height="36"/>
<rect x="457" y="550" width="1" height="34"/>
<rect x="465" y="551" width="1" height="33"/>
<rect x="473" y="552" width="1" height="32"/>
<rect x="481" y="552" width="1" height="32"/>
<rect x="489" y="550" width="1" height="34"/>
<rect x="497" y="549" width="1" height="35"/>
<rect x="505" y="549" width="1" height="35"/>
<rect x="513" y="549" width="1" height="35"/>
<rect x="521" y="548" width="1" height="36"/>
<rect x="529" y="547" width="1" height="37"/>
<rect x="537" y="547" width="1" height="37"/>
<rect x="545" y="547" width="1" height="37"/>
<rect x="553" y="548" width="1" height="36"/>
<rect x="561" y="549" width="1" height="35"/>
<rect x="569" y="551" width="1" height="33"/>
<rect x="577" y="552" width="1" height="32"/>
<rect x="585" y="554" width="1" height="30"/>
<rect x="593" y="556" width="1" height="28"/>
<rect x="601" y="559" width="1" height="25"/>
<rect x="609" y="563" width="1" height="21"/>
<rect x="617" y="568" width="1" height="16"/>
<rect x="625" y="574" width="1" height="10"/>
<rect x="633" y="579" width="1" height="5"/>
<rect x="641" y="583" width="1" height="1"/>
<rect x="649" y="583" width="1" height="3"/>
<rect x="657" y="583" width="1" height="6"/>
<rect x="665" y="583" width="1" height="9"/>
<rect x="673" y="583" width="1" height="10"/>
<rect x="681" y="583" width="1" height="8"/>
<rect x="689" y="583" width="1" height="4"/>
<rect x="697" y="583" width="1" height="4"/>
<rect x="705" y="583" width="1" height="4"/>
<rect x="713" y="583" width="1" height="1"/>
<rect x="721" y="583" width="1" height="1"/>
<rect x="729" y="583" width="1" height="1"/>
<rect x="737" y="583" width="1" height="1"/>
<rect x="745" y="583" width="1" height="1"/>
<rect x="753" y="580" width="1" height="4"/>
<rect x="761" y="576" width="1" height="8"/>
<rect x="769" y="572" width="1" height="12"/>
<rect x="777" y="568" width="1" height="16"/>
<rect x="785" y="564" width="1" height="20"/>
<rect x="793" y="560" width="1" height="24"/>
<rect x="801" y="557" width="1" height="27"/>
<rect x="809" y="555" width="1" height="29"/>
<rect x="817" y="553" width="1" height="31"/>
<rect x="825" y="552" width="1" height="32"/>
<rect x="833" y="552" width="1" height="32"/>
<rect x="841" y="552" width="1" height="32"/>
<rect x="849" y="552" width="1" height="32"/>
<rect x="857" y="553" width="1" height="31"/>
<rect x="865" y="555" width="1" height="29"/>
<rect x="873" y="557" width="1" height="27"/>
<rect x="881" y="560" width="1" height="24"/>
<rect x="889" y="564" width="1" height="20"/>
<rect x="897" y="568" width="1" height="16"/>
<rect x="905" y="569" width="1" height="15"/>
<rect x="913" y="567" width="1" height="17"/>
<rect x="921" y="563" width="1" height="21"/>
<rect x="929" y="560" width="1" height="24"/>
<rect x="937" y="557" width="1" height="27"/>
<rect x="945" y="555" width="1" height="29"/>
<rect x="953" y="553" width="1" height="31"/>
<rect x="961" y="553" width="1" height="31"/>
<rect x="969" y="553" width="1" height="31"/>
<rect x="977" y="554" width="1" height="30"/>
<rect x="985" y="554" width="1" height="30"/>
<rect x="993" y="555" width="1" height="29"/>
<rect x="1001" y="556" width="1" height="28"/>
<rect x="1009" y="558" width="1" height="26"/>
<rect x="1017" y="559" width="1" height="25"/>
<rect x="1025" y="559" width="1" height="25"/>
<rect x="1033" y="559" width="1" height="25"/>
<rect x="1041" y="561" width="1" height="23"/>
<rect x="1049" y="562" width="1" height="22"/>
<rect x="1057" y="563" width="1" height="21"/>
<rect x="1065" y="564" width="1" height="20"/>
<rect x="1073" y="564" width="1" height="20"/>
<rect x="1081" y="563" width="1" height="21"/>
<rect x="1089" y="562" width="1" height="22"/>
<rect x="1097" y="562" width="1" height="22"/>
<rect x="1105" y="562" width="1" height="22"/>
<rect x="1113" y="565" width="1" height="19"/>
<rect x="1121" y="569" width="1" height="15"/>
<rect x="1129" y="572" width="1" height="12"/>
<rect x="1137" y="574" width="1" height="10"/>
<rect x="1145" y="575" width="1" height="9"/>
<rect x="1153" y="574" width="1" height="10"/>
<rect x="1161" y="574" width="1" height="10"/>
<rect x="1169" y="573" width="1" height="11"/>
<rect x="1177" y="571" width="1" height="13"/>
<rect x="1185" y="569" width="1" height="15"/>
<rect x="1193" y="568" width="1" height="16"/>
<rect x="1201" y="567" width="1" height="17"/>
<rect x="1209" y="565" width="1" height="19"/>
<rect x="1217" y="563" width="1" height="21"/>
<rect x="1225" y="562" width="1" height="22"/>
<rect x="1233" y="564" width="1" height="20"/>
<rect x="1241" y="567" width="1" height="17"/>
<rect x="1249" y="569" width="1" height="15"/>
<rect x="1257" y="571" width="1" height="13"/>
<rect x="1265" y="572" width="1" height="12"/>
<rect x="1273" y="572" width="1" height="12"/>
<rect x="1281" y="573" width="1" height="11"/>
<rect x="1289" y="575" width="1" height="9"/>
</g>
<polyline points="9.4,538.0 26.1,544.0 46.1,551.0 60.1,558.1 76.2,565.7 94.2,573.1 106.2,577.7 124.2,580.1 144.3,582.1 160.3,581.7 172.3,580.1 184.4,577.1 200.4,574.5 208.4,571.7 232.5,571.3 250.5,572.5 266.5,577.7 280.6,581.1 296.6,583.7 312.6,586.1 324.6,584.5 332.9,583.6 344.7,580.7 359.5,574.2 374.2,568.3 388.9,560.9 403.7,553.0 418.4,549.2 433.1,546.2 447.9,544.1 462.6,545.3 477.3,547.1 500.9,549.2 536.2,549.2 565.7,548.3 589.3,548.6 607.0,551.2 624.6,558.0 642.3,564.8 660.0,573.6 677.7,581.6 689.5,586.0 707.1,588.9 724.8,589.5 739.5,587.7 754.3,584.8 772.0,581.6 789.6,574.8 807.3,567.7 820.0,563.0 831.8,558.9 843.6,555.6 861.2,552.7 876.0,552.4 887.8,554.2 902.5,557.1 917.2,560.6 932.0,562.4 946.7,561.2 964.4,559.5 976.2,555.9 990.9,554.5 1002.7,553.3 1020.4,554.7 1038.0,556.5 1055.7,558.3 1073.4,560.1 1091.1,561.2 1108.7,561.5 1126.4,563.9 1144.1,565.9 1158.8,569.2 1176.5,571.2 1203.0,571.2 1217.8,568.9 1232.5,565.9 1250.2,565.4 1267.8,565.4 1279.6,566.8 1289.4,568.3" fill="none" stroke="#ff0000" stroke-width="1" stroke-dasharray="3 3" shape-rendering="crispEdges"/>
</g>
<g shape-rendering="crispEdges"><line x1="9" x2="1628" y1="638.5" y2="638.5" stroke="#c0c0c0" stroke-dasharray="3 3.5"/><line x1="9" x2="1628" y1="688.5" y2="688.5" stroke="#c0c0c0" stroke-dasharray="3 3.5"/></g>
<polyline points="9.5,652.3 17.5,652.3 25.5,661.3 33.5,677.7 41.5,671.2 49.5,664.2 57.5,669.4 65.5,662.1 73.5,666.5 81.5,670.4 89.5,666.5 97.5,664.4 105.5,663.4 113.5,660.3 121.5,660.8 129.5,664.4 137.5,663.4 145.5,653.0 153.5,653.0 161.5,651.2 169.5,640.6 177.5,644.7 185.5,647.3 193.5,651.7 201.5,653.6 209.5,657.2 217.5,660.3 225.5,676.4 233.5,668.1 241.5,671.2 249.5,673.3 257.5,671.2 265.5,664.4 273.5,672.5 281.5,670.4 289.5,661.3 297.5,661.3 305.5,665.5 313.5,658.2 321.5,655.6 329.5,637.5 337.5,638.3 345.5,637.0 353.5,640.1 361.5,641.6 369.5,638.3 377.5,635.4 385.5,633.6 393.5,633.6 401.5,632.3 409.5,638.3 417.5,636.2 425.5,644.5 433.5,641.6 441.5,643.4 449.5,641.6 457.5,645.3 465.5,644.2 473.5,643.4 481.5,635.4 489.5,634.4 497.5,637.5 505.5,636.2 513.5,631.8 521.5,627.4 529.5,630.2 537.5,634.4 545.5,633.6 553.5,642.7 561.5,641.4 569.5,637.5 577.5,644.2 585.5,645.8 593.5,651.7 601.5,656.2 609.5,666.5 617.5,676.4 625.5,680.3 633.5,677.4 641.5,681.0 649.5,681.6 657.5,684.7 665.5,686.2 673.5,670.7 681.5,662.6 689.5,662.6 697.5,664.4 705.5,662.6 713.5,655.6 721.5,660.3 729.5,664.4 737.5,659.5 745.5,647.3 753.5,647.3 761.5,644.2 769.5,638.5 777.5,634.4 785.5,633.1 793.5,630.2 801.5,631.3 809.5,633.6 817.5,630.2 825.5,632.3 833.5,641.6 841.5,638.3 849.5,635.4 857.5,640.1 865.5,658.2 873.5,652.3 881.5,658.2 889.5,665.2 897.5,668.6 905.5,656.9 913.5,645.3 921.5,643.2 929.5,641.4 937.5,640.3 945.5,641.4 953.5,642.1 961.5,643.4 969.5,643.4 977.5,645.3 985.5,644.2 993.5,644.2 1001.5,645.3 1009.5,655.4 1017.5,650.4 1025.5,641.4 1033.5,650.4 1041.5,653.6 1049.5,652.3 1057.5,652.3 1065.5,647.3 1073.5,645.3 1081.5,645.3 1089.5,638.3 1097.5,645.3 1105.5,649.2 1113.5,665.2 1121.5,669.4 1129.5,662.1 1137.5,664.7 1145.5,661.3 1153.5,653.6 1161.5,652.3 1169.5,657.4 1177.5,650.4 1185.5,645.3 1193.5,648.4 1201.5,646.3 1209.5,644.2 1217.5,639.3 1225.5,650.4 1233.5,657.4 1241.5,663.4 1249.5,661.3 1257.5,660.3 1265.5,661.3 1273.5,653.6 1281.5,663.4 1289.5,663.4" fill="none" stroke="#1e90ff" stroke-width="1" shape-rendering="crispEdges"/>
<rect x="1629" y="72" width="2" height="1" fill="#000"/>
<rect x="1629" y="121" width="2" height="1" fill="#000"/>
<rect x="1629" y="170" width="2" height="1" fill="#000"/>
<rect x="1629" y="219" width="2" height="1" fill="#000"/>
<rect x="1629" y="268" width="2" height="1" fill="#000"/>
<rect x="1629" y="317" width="2" height="1" fill="#000"/>
<rect x="1629" y="366" width="2" height="1" fill="#000"/>
<rect x="1629" y="415" width="2" height="1" fill="#000"/>
<rect x="1629" y="464" width="2" height="1" fill="#000"/>
<rect x="1629" y="513" width="2" height="1" fill="#000"/>
<rect x="1629" y="583" width="2" height="1" fill="#000"/>
<rect x="1629" y="638" width="2" height="1" fill="#000"/>
<rect x="1629" y="688" width="2" height="1" fill="#000"/>
<rect x="9" y="728" width="1" height="3" fill="#000"/>
<rect x="105" y="728" width="1" height="3" fill="#000"/>
<rect x="201" y="728" width="1" height="3" fill="#000"/>
<rect x="297" y="728" width="1" height="3" fill="#000"/>
<rect x="393" y="728" width="1" height="3" fill="#000"/>
<rect x="489" y="728" width="1" height="3" fill="#000"/>
<rect x="585" y="728" width="1" height="3" fill="#000"/>
<rect x="681" y="728" width="1" height="3" fill="#000"/>
<rect x="777" y="728" width="1" height="3" fill="#000"/>
<rect x="873" y="728" width="1" height="3" fill="#000"/>
<rect x="969" y="728" width="1" height="3" fill="#000"/>
<rect x="1065" y="728" width="1" height="3" fill="#000"/>
<rect x="1161" y="728" width="1" height="3" fill="#000"/>
<rect x="1257" y="728" width="1" height="3" fill="#000"/>
<text x="1635" y="77" font-size="12.5" fill="#000" font-family="Liberation Sans, sans-serif" >2808.180</text>
<text x="1635" y="126" font-size="12.5" fill="#000" font-family="Liberation Sans, sans-serif" >2786.865</text>
<text x="1635" y="224" font-size="12.5" fill="#000" font-family="Liberation Sans, sans-serif" >2743.800</text>
<text x="1635" y="273" font-size="12.5" fill="#000" font-family="Liberation Sans, sans-serif" >2722.485</text>
<text x="1635" y="322" font-size="12.5" fill="#000" font-family="Liberation Sans, sans-serif" >2701.170</text>
<text x="1635" y="371" font-size="12.5" fill="#000" font-family="Liberation Sans, sans-serif" >2679.420</text>
<text x="1635" y="420" font-size="12.5" fill="#000" font-family="Liberation Sans, sans-serif" >2658.105</text>
<text x="1635" y="469" font-size="12.5" fill="#000" font-family="Liberation Sans, sans-serif" >2636.790</text>
<text x="1635" y="518" font-size="12.5" fill="#000" font-family="Liberation Sans, sans-serif" >2615.475</text>
<rect x="1630" y="111" width="63" height="13" fill="#000"/>
<rect x="1630" y="49" width="63" height="14" fill="#ff0000"/>
<text x="1635" y="61" font-size="12.5" fill="#fff" font-family="Liberation Sans, sans-serif" >2815.515</text>
<rect x="1630" y="108" width="63" height="14" fill="#00fa7d"/>
<text x="1635" y="120" font-size="12.5" fill="#fff" font-family="Liberation Sans, sans-serif" >2789.546</text>
<rect x="1630" y="162" width="63" height="14" fill="#0000ff"/>
<text x="1635" y="174" font-size="12.5" fill="#fff" font-family="Liberation Sans, sans-serif" >2765.990</text>
<rect x="1630" y="243" width="63" height="14" fill="#0000ff"/>
<text x="1635" y="255" font-size="12.5" fill="#fff" font-family="Liberation Sans, sans-serif" >2730.607</text>
<text x="1632" y="548" font-size="12.5" fill="#000" font-family="Liberation Sans, sans-serif" >18.896</text>
<text x="1632" y="587" font-size="12.5" fill="#000" font-family="Liberation Sans, sans-serif" >0.00</text>
<text x="1633" y="593" font-size="12.5" fill="#000" font-family="Liberation Sans, sans-serif" >-5.2015</text>
<text x="1632" y="612" font-size="12.5" fill="#000" font-family="Liberation Sans, sans-serif" >100</text>
<text x="1632" y="643" font-size="12.5" fill="#000" font-family="Liberation Sans, sans-serif" >70</text>
<text x="1632" y="693" font-size="12.5" fill="#000" font-family="Liberation Sans, sans-serif" >30</text>
<text x="1632" y="724" font-size="12.5" fill="#000" font-family="Liberation Sans, sans-serif" >0</text>
<text x="13" y="550" font-size="12.5" fill="#000" font-family="Liberation Sans, sans-serif" >MACD(12,26,9) 3.5964 5.7424</text>
<text x="13" y="614" font-size="12.5" fill="#000" font-family="Liberation Sans, sans-serif" >RSI(14) 50.0989</text>
<polygon points="12,48 21,48 16.5,43" fill="#000"/>
<text x="27" y="50" font-size="12.5" fill="#000" font-family="Liberation Sans, sans-serif" textLength="57" lengthAdjust="spacing">SP500-,H4</text>
<text x="93.0" y="50" font-size="12.5" fill="#000" font-family="Liberation Sans, sans-serif" >2788.500</text>
<text x="150.2" y="50" font-size="12.5" fill="#000" font-family="Liberation Sans, sans-serif" >2788.500</text>
<text x="207.4" y="50" font-size="12.5" fill="#000" font-family="Liberation Sans, sans-serif" >2788.500</text>
<text x="264.6" y="50" font-size="12.5" fill="#000" font-family="Liberation Sans, sans-serif" >2788.500</text>
<text x="8" y="743" font-size="12.3" fill="#000" font-family="Liberation Sans, sans-serif" >22 Jan 2019</text>
<text x="104" y="743" font-size="12.3" fill="#000" font-family="Liberation Sans, sans-serif" >24 Jan 04:00</text>
<text x="200" y="743" font-size="12.3" fill="#000" font-family="Liberation Sans, sans-serif" >28 Jan 00:00</text>
<text x="296" y="743" font-size="12.3" fill="#000" font-family="Liberation Sans, sans-serif" >30 Jan 00:00</text>
<text x="392" y="743" font-size="12.3" fill="#000" font-family="Liberation Sans, sans-serif" >1 Feb 00:00</text>
<text x="488" y="743" font-size="12.3" fill="#000" font-family="Liberation Sans, sans-serif" >4 Feb 20:00</text>
<text x="584" y="743" font-size="12.3" fill="#000" font-family="Liberation Sans, sans-serif" >6 Feb 20:00</text>
<text x="680" y="743" font-size="12.3" fill="#000" font-family="Liberation Sans, sans-serif" >8 Feb 20:00</text>
<text x="776" y="743" font-size="12.3" fill="#000" font-family="Liberation Sans, sans-serif" >12 Feb 16:00</text>
<text x="872" y="743" font-size="12.3" fill="#000" font-family="Liberation Sans, sans-serif" >14 Feb 16:00</text>
<text x="968" y="743" font-size="12.3" fill="#000" font-family="Liberation Sans, sans-serif" >18 Feb 12:00</text>
<text x="1064" y="743" font-size="12.3" fill="#000" font-family="Liberation Sans, sans-serif" >20 Feb 12:00</text>
<text x="1160" y="743" font-size="12.3" fill="#000" font-family="Liberation Sans, sans-serif" >22 Feb 12:00</text>
<text x="1256" y="743" font-size="12.3" fill="#000" font-family="Liberation Sans, sans-serif" >26 Feb 08:00</text>
<text x="1137" y="453" font-size="50.6" fill="#ff2010" font-family="Liberation Sans, Noto Sans CJK SC, sans-serif">多空转折点</text>
<text x="1390" y="450.4" font-size="50.5" fill="#ff2010" font-family="Liberation Sans, Noto Sans CJK SC, sans-serif">2789</text></svg>

<!-- one click trading panel -->
<div class="abs" id="oct" style="left:12px;top:58px;width:283px;height:76px;">
 <div class="abs" style="left:0;top:0;width:283px;height:28px;background:#fff"></div>
 <div class="abs" style="left:141px;top:27px;width:2px;height:49px;background:#fff"></div>
 <!-- sell -->
 <div class="abs" style="left:0;top:0;width:68px;height:28px;background:linear-gradient(#fa5252,#e43838);border:1px solid #c81e1e;border-bottom:none;box-sizing:border-box"></div>
 <div class="abs" style="left:0;top:27px;width:141px;height:49px;background:linear-gradient(#e23535,#d42222 45%,#b00000);border:1px solid #b81414;border-top:none;box-sizing:border-box"></div>
 <div class="abs" style="left:4px;top:27px;width:60px;height:1px;background:#8c0a0a"></div>
 <div class="pr" style="left:0;top:5px;width:68px;text-align:center;font-size:14px;line-height:18px;letter-spacing:-0.4px">SELL</div>
 <!-- buy -->
 <div class="abs" style="left:216px;top:0;width:67px;height:28px;background:linear-gradient(#fa5252,#e43838);border:1px solid #c81e1e;border-bottom:none;box-sizing:border-box"></div>
 <div class="abs" style="left:143px;top:27px;width:140px;height:49px;background:linear-gradient(#e23535,#d42222 45%,#b00000);border:1px solid #b81414;border-top:none;box-sizing:border-box"></div>
 <div class="abs" style="left:220px;top:27px;width:59px;height:1px;background:#8c0a0a"></div>
 <div class="pr" style="left:216px;top:5px;width:67px;text-align:center;font-size:14px;line-height:18px;">BUY</div>
 <!-- spinner -->
 <div class="abs" style="left:70px;top:0;width:143px;height:25px;border:1px solid #abadb3;box-sizing:border-box;background:#fff"></div>
 <div class="abs" style="left:71px;top:1px;width:24px;height:23px;background:linear-gradient(#ececec,#dcdcdc 50%,#cfcfcf 50%,#d6d6d6);border-right:1px solid #b8b8b8;box-sizing:border-box"></div>
 <div class="abs" style="left:188px;top:1px;width:24px;height:23px;background:linear-gradient(#ececec,#dcdcdc 50%,#cfcfcf 50%,#d6d6d6);border-left:1px solid #b8b8b8;box-sizing:border-box"></div>
 <svg class="abs" style="left:70px;top:0" width="143" height="25"><path d="M9.2 11 h7 l-3.5 4z" fill="#5062b8"/><path d="M127.3 14.6 h7 l-3.5 -4z" fill="#5062b8"/></svg>
 <div class="abs" style="left:95px;top:3px;width:90px;text-align:right;font-size:15.5px;line-height:18px;color:#000">1.00</div>
 <!-- prices -->
 <div class="pr" style="left:21px;top:51px;font-size:16px;font-weight:bold;line-height:18px;letter-spacing:0.2px">2788</div>
 <div class="pr" style="left:60px;top:30px;font-size:39.5px;line-height:40px;transform:scale(1.03,1.07);transform-origin:0 50%">48</div>
 <div class="pr" style="left:110px;top:33px;font-size:15px;font-weight:bold;line-height:16px;">5</div>
 <div class="pr" style="left:163px;top:51px;font-size:16px;font-weight:bold;line-height:18px;letter-spacing:0.2px">2789</div>
 <div class="pr" style="left:205px;top:30px;font-size:39.5px;line-height:40px;transform:scale(1.03,1.07);transform-origin:0 50%">51</div>
 <div class="pr" style="left:253px;top:33px;font-size:15px;font-weight:bold;line-height:16px;">5</div>
</div>
</body></html>
